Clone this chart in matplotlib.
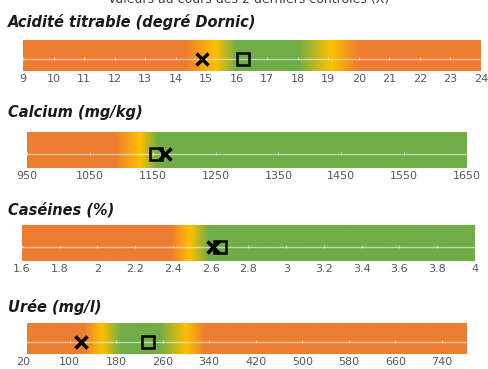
import numpy as np
import matplotlib
matplotlib.use('Agg')
import matplotlib.pyplot as plt
from matplotlib.colors import to_rgb

# Colours used for the zones
ORANGE = '#ED7D31'
YELLOW = '#FFC000'
GREEN = '#70AD47'

# Panel 1 : acidité titrable
acid_ticks = list(range(9, 25))
acid_stops = [9, 14.3, 15.3, 16.0, 18.0, 19.1, 20.0, 24]
acid_cols = [ORANGE, ORANGE, YELLOW, GREEN, GREEN, YELLOW, ORANGE, ORANGE]
acid_x = 14.85      # croix
acid_sq = 16.2      # carré

# Panel 2 : calcium
calc_ticks = [950, 1050, 1150, 1250, 1350, 1450, 1550, 1650]
calc_stops = [950, 1090, 1130, 1158, 1650]
calc_cols = [ORANGE, ORANGE, YELLOW, GREEN, GREEN]
calc_x = 1170
calc_sq = 1155

# Panel 3 : caséines
cas_ticks = [1.6, 1.8, 2, 2.2, 2.4, 2.6, 2.8, 3, 3.2, 3.4, 3.6, 3.8, 4]
cas_labels = ['1.6', '1.8', '2', '2.2', '2.4', '2.6', '2.8', '3', '3.2', '3.4', '3.6', '3.8', '4']
cas_stops = [1.6, 2.39, 2.49, 2.59, 4]
cas_cols = [ORANGE, ORANGE, YELLOW, GREEN, GREEN]
cas_x = 2.61
cas_sq = 2.65

# Panel 4 : urée
uree_ticks = [20, 100, 180, 260, 340, 420, 500, 580, 660, 740]
uree_stops = [27, 125, 155, 188, 255, 300, 332, 783]
uree_cols = [ORANGE, ORANGE, YELLOW, GREEN, GREEN, YELLOW, ORANGE, ORANGE]
uree_x = 120
uree_sq = 235

W, H = 488, 369
fig = plt.figure(figsize=(W / 100, H / 100), dpi=100)


def px_axes(x0, y0, x1, y1):
    # axes from pixel box (top-left origin)
    return fig.add_axes([x0 / W, 1 - y1 / H, (x1 - x0) / W, (y1 - y0) / H])


def gradient(ax, stops, cols, x0, x1):
    xs = np.linspace(x0, x1, 600)
    rgb = np.array([to_rgb(c) for c in cols])
    img = np.stack([np.interp(xs, stops, rgb[:, k]) for k in range(3)], axis=-1)
    ax.imshow(img[None, :, :], extent=(x0, x1, 0, 1), aspect='auto', zorder=0)


def panel(box, title, ty, xlim, stops, cols, ticks, labels, xv, sqv, bar=None):
    ax = px_axes(*box)
    b0, b1 = bar if bar else xlim
    gradient(ax, stops, cols, b0, b1)
    ax.set_xlim(*xlim)
    ax.set_ylim(0, 1)
    # thin pale line with small tick marks
    ax.plot([b0, b1], [0.4, 0.4], color='white', lw=1.0, alpha=0.55, zorder=1)
    ax.vlines([t for t in ticks if b0 <= t <= b1], 0.35, 0.45, color='white', lw=0.8, alpha=0.5, zorder=1)
    ax.plot(sqv, 0.4, marker='s', ms=9, mfc='none', mec='black', mew=1.8, zorder=3)
    ax.plot(xv, 0.4, marker='x', ms=8, mec='black', mew=2.5, zorder=4)
    ax.set_xticks(ticks)
    ax.set_xticklabels(labels, fontsize=8, color='#595959')
    ax.tick_params(axis='x', length=0, pad=2)
    ax.set_yticks([])
    for s in ax.spines.values():
        s.set_visible(False)
    fig.text(8 / W, 1 - ty / H, title, fontsize=10.5, fontweight='bold', fontstyle='italic',
             color='#1a1a1a', va='center', ha='left')
    return ax


# title of the figure, mostly cut off by the top edge as in the original
fig.text(0.51, 1 - 6 / H, 'Valeurs au cours des 2 derniers contrôles (X)', fontsize=9,
         color='#404040', ha='center', va='bottom')

panel((23, 40, 481, 71), 'Acidité titrable (degré Dornic)', 22, (9, 24),
      acid_stops, acid_cols, acid_ticks, [str(t) for t in acid_ticks], acid_x, acid_sq)
panel((27, 132, 467, 168), 'Calcium (mg/kg)', 112, (950, 1650),
      calc_stops, calc_cols, calc_ticks, [str(t) for t in calc_ticks], calc_x, calc_sq)
panel((22, 225, 475, 261), 'Caséines (%)', 210, (1.6, 4),
      cas_stops, cas_cols, cas_ticks, cas_labels, cas_x, cas_sq)
panel((23, 323, 471, 354), 'Urée (mg/l)', 307, (20, 790),
      uree_stops, uree_cols, uree_ticks, [str(t) for t in uree_ticks], uree_x, uree_sq,
      bar=(27, 783))

fig.savefig('out.png', dpi=100)
